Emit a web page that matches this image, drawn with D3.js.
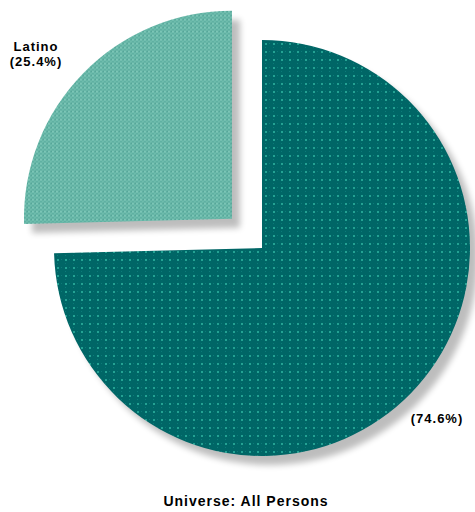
<!DOCTYPE html>
<html>
<head>
<meta charset="utf-8">
<script src="https://cdn.jsdelivr.net/npm/d3@7"></script>
<style>
  html, body { margin: 0; padding: 0; background: #fff; }
  svg { display: block; }
  text { font-family: "Liberation Sans", Arial, sans-serif; font-weight: bold; fill: #000; }
</style>
</head>
<body>
<script>
// Population share by group
const groups = ["Latino", "Non-Latino"];
const shares = [25.4, 74.6];
const labelLines = [["Latino", "(25.4%)"], ["(74.6%)"]];
const universeNote = "Universe: All Persons";

const width = 475, height = 512;
const cx = 262, cy = 248, radius = 208;

const svg = d3.select("body").append("svg")
  .attr("width", width).attr("height", height);

const defs = svg.append("defs");

// Dotted texture for the dark slice
const pDark = defs.append("pattern").attr("id", "texDark")
  .attr("patternUnits", "userSpaceOnUse").attr("width", 8).attr("height", 8);
pDark.append("rect").attr("width", 8).attr("height", 8).attr("fill", "#006666");
pDark.append("rect").attr("x", 3).attr("y", 3).attr("width", 2).attr("height", 2).attr("fill", "#24a293");
pDark.append("rect").attr("x", 7).attr("y", 3).attr("width", 1).attr("height", 1).attr("fill", "#0b7a78");
pDark.append("rect").attr("x", 3).attr("y", 7).attr("width", 1).attr("height", 1).attr("fill", "#0b7a78");

// Checkered texture for the light slice
const pLight = defs.append("pattern").attr("id", "texLight")
  .attr("patternUnits", "userSpaceOnUse").attr("width", 4).attr("height", 4);
pLight.append("rect").attr("width", 4).attr("height", 4).attr("fill", "#5fb0a2");
pLight.append("rect").attr("x", 0).attr("y", 0).attr("width", 2).attr("height", 2).attr("fill", "#7cc6b6");
pLight.append("rect").attr("x", 2).attr("y", 2).attr("width", 2).attr("height", 2).attr("fill", "#6ebcac");
pLight.append("rect").attr("x", 3).attr("y", 0).attr("width", 1).attr("height", 1).attr("fill", "#4f9d92");

// Soft drop shadow
const shadow = defs.append("filter").attr("id", "shadow")
  .attr("x", "-20%").attr("y", "-20%").attr("width", "140%").attr("height", "140%");
shadow.append("feGaussianBlur").attr("in", "SourceAlpha").attr("stdDeviation", 3).attr("result", "blur");
shadow.append("feOffset").attr("in", "blur").attr("dx", 8).attr("dy", 9).attr("result", "off");
shadow.append("feComponentTransfer").attr("in", "off").attr("result", "shade")
  .append("feFuncA").attr("type", "linear").attr("slope", 0.26);

const data = groups.map((g, i) => ({ group: g, share: shares[i], lines: labelLines[i] }));

const startAngle = -2 * Math.PI * shares[0] / 100;
const pie = d3.pie().sort(null).value(d => d.share)
  .startAngle(startAngle).endAngle(startAngle + 2 * Math.PI);
const arcs = pie(data);
const arc = d3.arc().innerRadius(0).outerRadius(radius);

const explode = [42, 0];
const fills = ["url(#texLight)", "url(#texDark)"];

const g = svg.append("g").attr("transform", `translate(${cx},${cy})`);

function offsetOf(a, i) {
  const mid = (a.startAngle + a.endAngle) / 2;
  return [Math.sin(mid) * explode[i], -Math.cos(mid) * explode[i]];
}

// shadows first
g.selectAll("path.shadow").data(arcs).join("path")
  .attr("class", "shadow")
  .attr("d", arc)
  .attr("transform", (a, i) => { const o = offsetOf(a, i); return `translate(${o[0]},${o[1]})`; })
  .attr("fill", "#000")
  .attr("filter", "url(#shadow)");

g.selectAll("path.slice").data(arcs).join("path")
  .attr("class", "slice")
  .attr("d", arc)
  .attr("transform", (a, i) => { const o = offsetOf(a, i); return `translate(${o[0]},${o[1]})`; })
  .attr("fill", (a, i) => fills[i]);

// Slice labels
const labelPos = [[36, 51], [437, 423]];
arcs.forEach((a, i) => {
  const t = svg.append("text")
    .attr("x", labelPos[i][0]).attr("y", labelPos[i][1])
    .attr("text-anchor", "middle")
    .attr("font-size", 13)
    .attr("letter-spacing", 1);
  a.data.lines.forEach((line, j) => {
    t.append("tspan").attr("x", labelPos[i][0]).attr("dy", j === 0 ? 0 : 15).text(line);
  });
});

svg.append("text")
  .attr("x", 246).attr("y", 506)
  .attr("text-anchor", "middle")
  .attr("font-size", 14)
  .attr("letter-spacing", 1)
  .text(universeNote);
</script>
</body>
</html>
